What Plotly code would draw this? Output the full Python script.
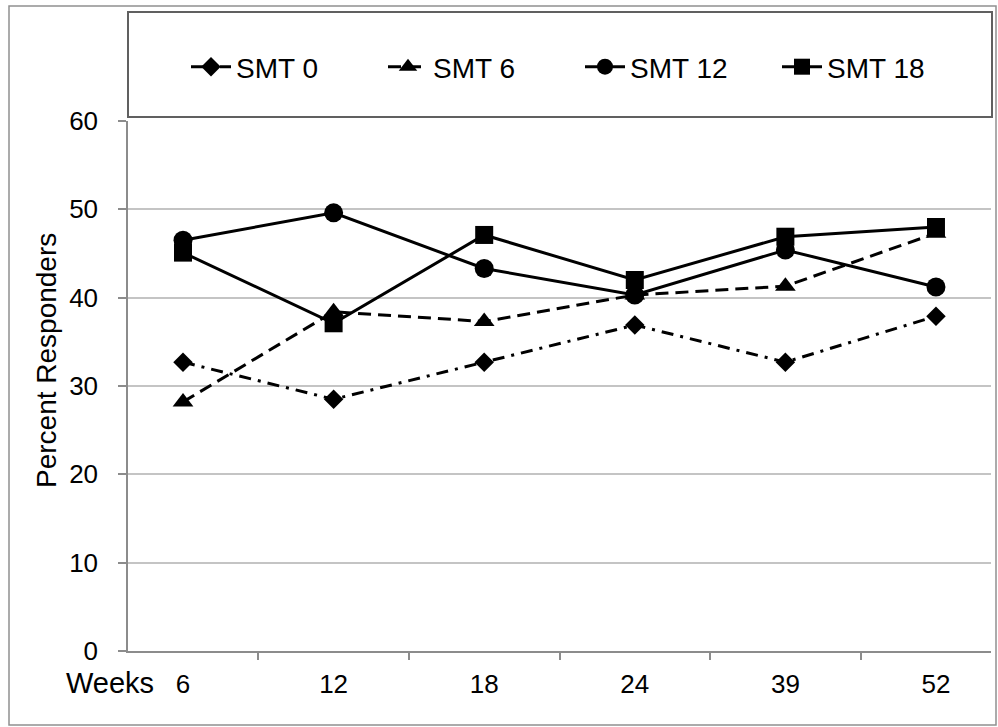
import plotly.graph_objects as go

weeks = ["6", "12", "18", "24", "39", "52"]
smt0 = [32.7, 28.5, 32.7, 36.9, 32.7, 37.9]
smt6 = [28.2, 38.4, 37.3, 40.3, 41.3, 47.3]
smt12 = [46.5, 49.6, 43.3, 40.3, 45.4, 41.2]
smt18 = [45.1, 37.1, 47.1, 42.0, 46.9, 48.0]
series_names = ["SMT 0", "SMT 6", "SMT 12", "SMT 18"]
y_ticks = [0, 10, 20, 30, 40, 50, 60]

FONT = "Liberation Sans, Arial, sans-serif"

fig = go.Figure()
styles = [
    (smt0, "diamond", 15, "12px,7px,3px,7px"),
    (smt6, "triangle-up", 18, "13px,7px"),
    (smt12, "circle", 19, "solid"),
    (smt18, "square", 18, "solid"),
]
for name, (vals, sym, size, dash) in zip(series_names, styles):
    fig.add_trace(go.Scatter(
        x=weeks, y=vals, name=name, mode="lines+markers",
        line=dict(color="black", width=3, dash=dash),
        marker=dict(symbol=sym, size=size, color="black"),
    ))

W, H = 998, 727
L, R, T, B = 128, 7, 121, 76
pw, ph = W - L - R, H - T - B

def px(x):
    return (x - L) / pw

def py(y):
    return (H - B - y) / ph

fig.update_layout(
    width=W, height=H,
    margin=dict(l=L, r=R, t=T, b=B),
    paper_bgcolor="white", plot_bgcolor="white",
    font=dict(family=FONT, color="black", size=26),
    showlegend=True,
    legend=dict(
        orientation="h", x=px(186), xanchor="left", y=py(67), yanchor="middle",
        font=dict(size=28, family=FONT, color="black"),
        entrywidth=142, entrywidthmode="pixels",
        bgcolor="rgba(0,0,0,0)", borderwidth=0, itemwidth=40,
        traceorder="normal",
    ),
    xaxis=dict(
        type="category", showgrid=False, showline=True, linecolor="#8c8c8c", linewidth=1.5,
        ticks="outside", tickson="boundaries", ticklen=7, tickcolor="#8c8c8c", tickwidth=1.5,
        tickfont=dict(size=26), ticklabelstandoff=9, zeroline=False,
    ),
    yaxis=dict(
        range=[0, 60], tickvals=y_ticks, showgrid=True, gridcolor="#c4c4c4", gridwidth=1.5,
        showline=True, linecolor="#8c8c8c", linewidth=1.5,
        ticks="outside", ticklen=8, tickcolor="#8c8c8c", tickwidth=1.5,
        tickfont=dict(size=26), ticklabelstandoff=15, zeroline=False,
    ),
    shapes=[
        dict(type="rect", xref="paper", yref="paper", x0=px(128), x1=px(992), y0=py(117), y1=py(12),
             line=dict(color="#606060", width=2), layer="below"),
        dict(type="rect", xref="paper", yref="paper", x0=px(9), x1=px(996), y0=py(725), y1=py(6),
             line=dict(color="#909090", width=1.5), layer="below"),
    ],
    annotations=[
        dict(text="Weeks", xref="paper", yref="paper", x=px(156), y=py(683), xanchor="right", yanchor="middle",
             showarrow=False, font=dict(size=29)),
        dict(text="Percent Responders", xref="paper", yref="paper", x=px(46), y=py(361), textangle=-90,
             xanchor="center", yanchor="middle", showarrow=False, font=dict(size=28)),
    ],
)

fig.write_html("out.html", config={"displayModeBar": False},
               post_script="document.body.style.margin='0';")
